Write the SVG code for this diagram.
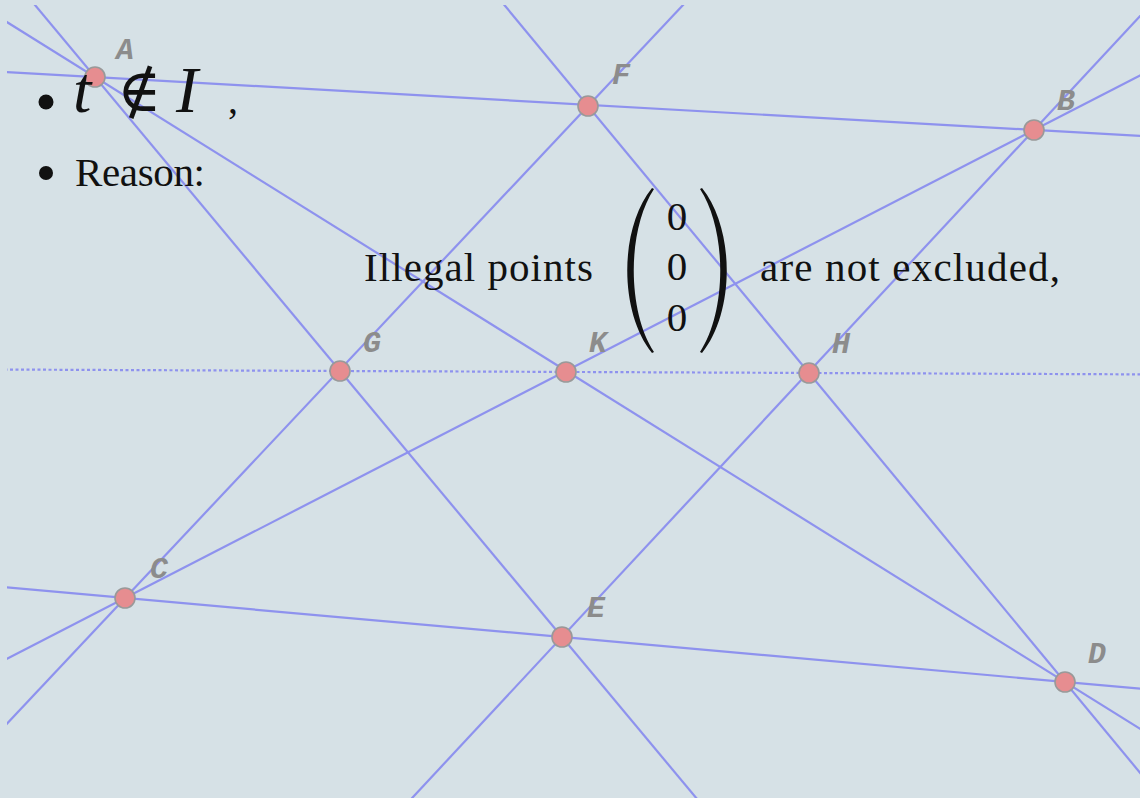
<svg xmlns="http://www.w3.org/2000/svg" width="1140" height="798" viewBox="0 0 1140 798">
<style>
.ln{stroke:#8e92ee;stroke-width:2.2;fill:none;stroke-linecap:butt}
.dot{stroke-dasharray:3 2.5}
.pt{fill:#e68d90;stroke:#999;stroke-width:1.6}
.lbl{font-family:"Liberation Mono",monospace;font-weight:bold;font-style:italic;font-size:30px;fill:#8c8c8c;text-anchor:middle}
.txt{font-family:"Liberation Serif",serif;font-size:41px;fill:#111}
.math{font-family:"Liberation Serif",serif;font-style:italic;font-size:66px;fill:#111}
</style>
<defs>
<clipPath id="clip"><rect x="7" y="5" width="1133" height="793"/></clipPath>
</defs>
<rect width="1140" height="798" fill="#d6e1e6"/>
<g id="connectors" clip-path="url(#clip)">
<line class="ln" x1="-100" y1="66" x2="1240" y2="141.6"/>
<line class="ln" x1="-100" y1="577.9" x2="1240" y2="697.6"/>
<line class="ln dot" x1="-100" y1="369.1" x2="1240" y2="374.8"/>
<line class="ln" x1="-10.9" y1="-50" x2="739.6" y2="850"/>
<line class="ln" x1="-100" y1="-44.6" x2="1240" y2="791.2"/>
<line class="ln" x1="734.8" y1="-50" x2="-112" y2="850"/>
<line class="ln" x1="458.8" y1="-50" x2="1204" y2="850"/>
<line class="ln" x1="1201.6" y1="-50" x2="363.7" y2="850"/>
<line class="ln" x1="-100" y1="713.9" x2="1240" y2="23.9"/>
</g>
<g id="A"><circle class="pt" cx="95" cy="77" r="10"/><text class="lbl" x="125" y="59">A</text></g>
<g id="F"><circle class="pt" cx="588" cy="106" r="10"/><text class="lbl" x="621" y="84">F</text></g>
<g id="B"><circle class="pt" cx="1034" cy="130" r="10"/><text class="lbl" x="1066" y="110">B</text></g>
<g id="G"><circle class="pt" cx="340" cy="371" r="10"/><text class="lbl" x="372" y="352">G</text></g>
<g id="K"><circle class="pt" cx="566" cy="372" r="10"/><text class="lbl" x="598" y="352">K</text></g>
<g id="H"><circle class="pt" cx="809" cy="373" r="10"/><text class="lbl" x="841" y="353">H</text></g>
<g id="C"><circle class="pt" cx="125" cy="598" r="10"/><text class="lbl" x="159" y="578">C</text></g>
<g id="E"><circle class="pt" cx="562" cy="637" r="10"/><text class="lbl" x="596" y="617">E</text></g>
<g id="D"><circle class="pt" cx="1065" cy="682" r="10"/><text class="lbl" x="1097" y="663">D</text></g>
<g id="text">
<circle cx="46" cy="102" r="7.5" fill="#111"/>
<text class="math" x="73" y="112">t</text>
<text x="117" y="111" style="font-family:'DejaVu Serif',serif;font-size:60px;fill:#111">∉</text>
<text class="math" x="176" y="112">I</text>
<text x="228" y="113" style="font-family:'Liberation Serif',serif;font-size:40px;fill:#111">,</text>
<circle cx="46" cy="173" r="7" fill="#111"/>
<text class="txt" x="75" y="186" textLength="130">Reason:</text>
<text class="txt" x="364" y="281" textLength="229">Illegal points</text>
<path d="M652,188 C619,229 619,312 652,353 L654,352 C627,311 627,230 654,189 Z" fill="#111"/>
<path d="M702,188 C735,229 735,312 702,353 L700,352 C727,311 727,230 700,189 Z" fill="#111"/>
<text class="txt" x="677" y="230" text-anchor="middle">0</text>
<text class="txt" x="677" y="280" text-anchor="middle">0</text>
<text class="txt" x="677" y="331" text-anchor="middle">0</text>
<text class="txt" x="760" y="281" textLength="300">are not excluded,</text>
</g>
</svg>
